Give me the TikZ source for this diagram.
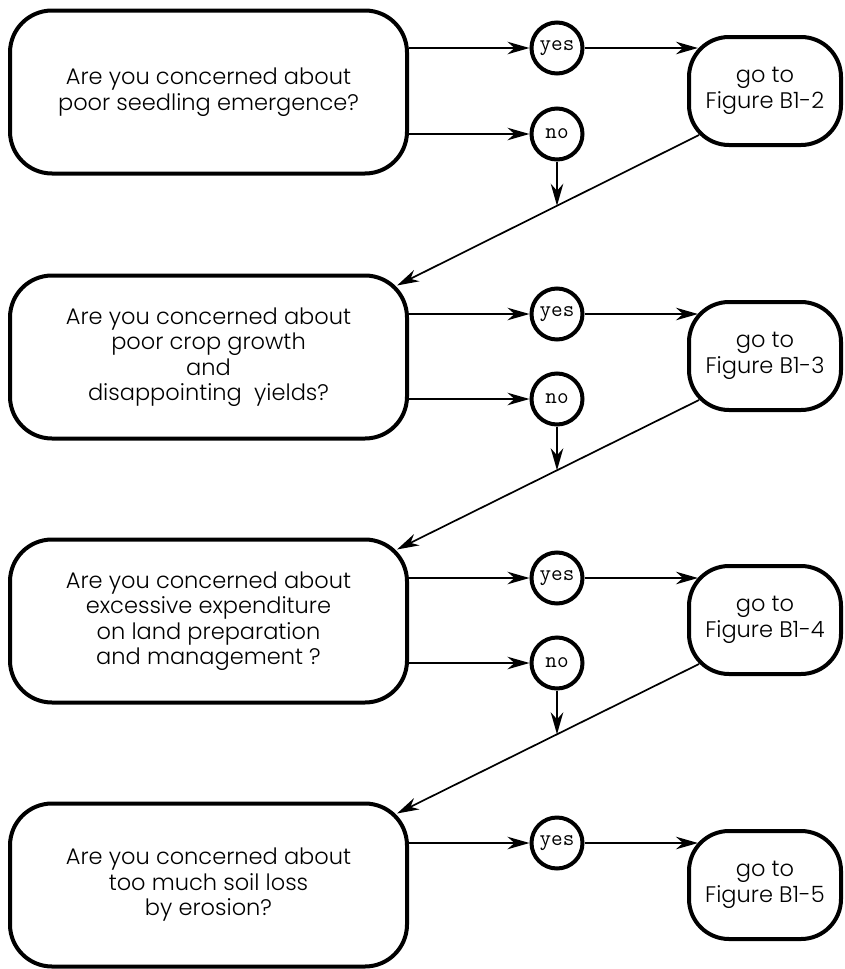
\documentclass[tikz,border=0pt]{standalone}
\usepackage{fontspec}
\setmainfont{Poppins Light}
\usetikzlibrary{arrows.meta,calc,intersections}
\begin{document}
\begin{tikzpicture}[x=1pt,y=-1pt,
  txt/.style={font=\fontsize{22.5}{25.5}\selectfont},
  qbox/.style={draw, line width=4pt, rounded corners=42pt, minimum width=397pt, minimum height=163pt, align=center, inner sep=0pt, txt},
  gbox/.style={draw, line width=4pt, rounded corners=40pt, minimum width=152pt, minimum height=108pt, align=center, inner sep=0pt, txt},
  yn/.style={draw, circle, line width=4pt, minimum size=51pt, inner sep=0pt, font=\ttfamily\fontsize{22.5}{23}\selectfont},
  tip/.style={-{Stealth[length=22pt,width=12.5pt,inset=7pt]}},
  arr/.style={tip, line width=2pt},
  darr/.style={tip, line width=1.7pt}
]
\useasboundingbox (0,0) rectangle (845,969);

% row 1
\node[qbox] (q1) at (208.5,92) {Are you concerned about\\poor seedling emergence?};
\node[gbox] (g1) at (765,91) {go to\\Figure B1-2};
\node[yn] (y1) at (557,48) {yes};
\node[yn] (n1) at (557,134) {no};
% row 2
\node[qbox] (q2) at (208.5,357) {Are you concerned about\\poor crop growth\\and\\disappointing\ \ yields?};
\node[gbox] (g2) at (765,356) {go to\\Figure B1-3};
\node[yn] (y2) at (557,314) {yes};
\node[yn] (n2) at (557,399) {no};
% row 3
\node[qbox] (q3) at (208.5,621) {Are you concerned about\\excessive expenditure\\on land preparation\\and management ?};
\node[gbox] (g3) at (765,620) {go to\\Figure B1-4};
\node[yn] (y3) at (557,578) {yes};
\node[yn] (n3) at (557,663) {no};
% row 4
\node[qbox] (q4) at (208.5,885) {Are you concerned about\\too much soil loss\\by erosion?};
\node[gbox] (g4) at (765,885) {go to\\Figure B1-5};
\node[yn] (y4) at (557,843) {yes};

% horizontal arrows
\foreach \i in {1,2,3,4}{
  \draw[arr] (q\i.east |- y\i) -- (y\i);
  \draw[arr] (y\i) -- ($(g\i.west |- y\i)+(11,0)$);
}
\foreach \i in {1,2,3}{
  \draw[arr] (q\i.east |- n\i) -- (n\i);
}
% diagonals and no-arrows
\draw[darr, name path=dA] ($(g1.south west)+(12,-12)$) -- ($(q2.north east)+(-12,12)$);
\path[name path=vA] (n1) -- ++(0,150);
\draw[arr, name intersections={of=vA and dA}] (n1) -- (intersection-1);

\draw[darr, name path=dB] ($(g2.south west)+(12,-12)$) -- ($(q3.north east)+(-12,12)$);
\path[name path=vB] (n2) -- ++(0,150);
\draw[arr, name intersections={of=vB and dB}] (n2) -- (intersection-1);

\draw[darr, name path=dC] ($(g3.south west)+(12,-12)$) -- ($(q4.north east)+(-12,12)$);
\path[name path=vC] (n3) -- ++(0,150);
\draw[arr, name intersections={of=vC and dC}] (n3) -- (intersection-1);
\end{tikzpicture}
\end{document}
